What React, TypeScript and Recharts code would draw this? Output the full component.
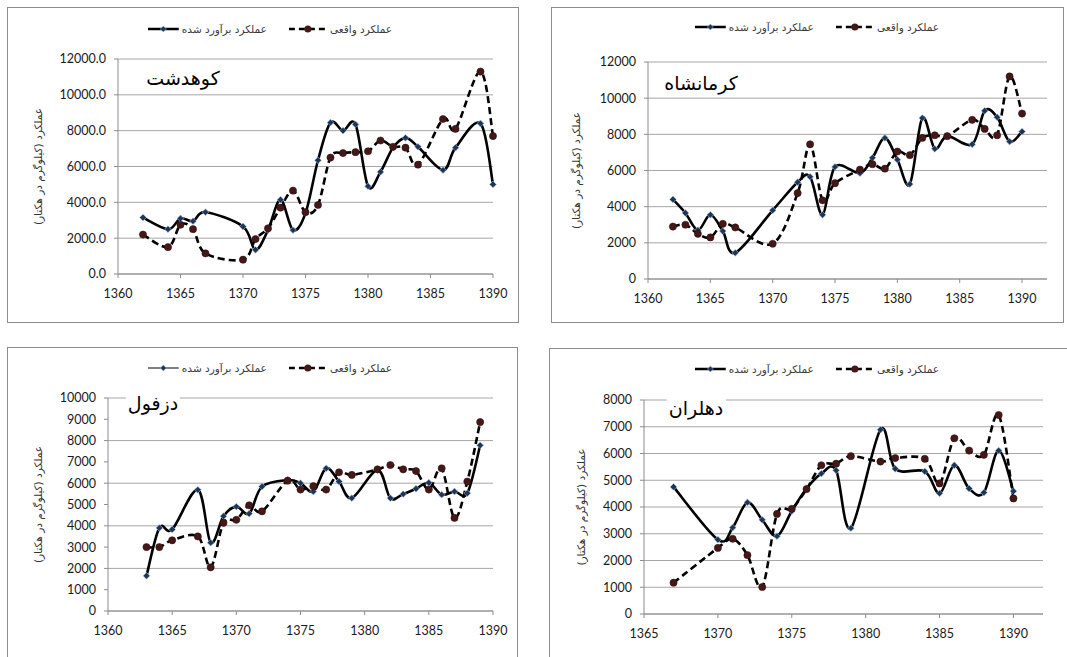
import React from "react";
import { LineChart, Line, XAxis, YAxis, CartesianGrid } from "recharts";

const estLabel = "عملکرد برآورد شده";
const actLabel = "عملکرد واقعی";
const yLabel = "عملکرد (کیلوگرم در هکتار)";

const xTicks60 = [1360, 1365, 1370, 1375, 1380, 1385, 1390];
const xTicks65 = [1365, 1370, 1375, 1380, 1385, 1390];
const yTicks12k = [0, 2000, 4000, 6000, 8000, 10000, 12000];
const yTicks10k = [0, 1000, 2000, 3000, 4000, 5000, 6000, 7000, 8000, 9000, 10000];
const yTicks8k = [0, 1000, 2000, 3000, 4000, 5000, 6000, 7000, 8000];

// کوهدشت
const years1 = [1362, 1364, 1365, 1366, 1367, 1370, 1371, 1372, 1373, 1374, 1375, 1376, 1377, 1378, 1379, 1380, 1381, 1382, 1383, 1384, 1386, 1387, 1389, 1390];
const est1 = [3150, 2500, 3100, 2950, 3450, 2650, 1350, 2450, 4150, 2450, 3400, 6350, 8450, 8000, 8350, 4900, 5700, 7050, 7600, 7100, 5800, 7050, 8400, 5000];
const act1 = [2200, 1500, 2750, 2500, 1150, 800, 1950, 2550, 3700, 4650, 3450, 3850, 6500, 6750, 6800, 6850, 7450, 7100, 7050, 6100, 8650, 8100, 11300, 7700];

// کرمانشاه
const years2 = [1362, 1363, 1364, 1365, 1366, 1367, 1370, 1372, 1373, 1374, 1375, 1377, 1378, 1379, 1380, 1381, 1382, 1383, 1384, 1386, 1387, 1388, 1389, 1390];
const est2 = [4400, 3650, 2700, 3550, 2650, 1450, 3800, 5350, 5650, 3550, 6200, 5850, 6700, 7800, 6600, 5250, 8900, 7200, 7900, 7450, 9300, 8950, 7600, 8150];
const act2 = [2900, 3000, 2500, 2300, 3050, 2850, 1950, 4750, 7450, 4350, 5300, 6050, 6350, 6100, 7050, 6850, 7800, 7950, 7900, 8800, 8300, 7950, 11200, 9150];

// دزفول
const years3 = [1363, 1364, 1365, 1367, 1368, 1369, 1370, 1371, 1372, 1374, 1375, 1376, 1377, 1378, 1379, 1381, 1382, 1383, 1384, 1385, 1386, 1387, 1388, 1389];
const est3 = [1650, 3900, 3830, 5690, 3210, 4450, 4900, 4570, 5840, 6150, 6000, 5610, 6700, 6080, 5300, 6620, 5300, 5490, 5740, 6020, 5460, 5610, 5530, 7780];
const act3 = [3000, 3000, 3320, 3500, 2050, 4140, 4280, 4960, 4680, 6120, 5700, 5860, 5700, 6510, 6390, 6650, 6850, 6650, 6570, 5700, 6700, 4370, 6080, 8870];

// دهلران
const years4 = [1367, 1370, 1371, 1372, 1373, 1374, 1375, 1376, 1377, 1378, 1379, 1381, 1382, 1384, 1385, 1386, 1387, 1388, 1389, 1390];
const est4 = [4750, 2780, 3230, 4170, 3520, 2910, 3850, 4690, 5250, 5370, 3210, 6890, 5430, 5330, 4510, 5560, 4690, 4540, 6110, 4590];
const act4 = [1170, 2470, 2810, 2200, 1010, 3740, 3930, 4670, 5560, 5620, 5900, 5700, 5830, 5800, 4880, 6570, 6110, 5950, 7440, 4320];

const numFont = "Lato, 'Open Sans', sans-serif";
const faFont = "'DejaVu Sans', sans-serif";

// Excel-like smoothed line (catmull-rom style bezier)
const smooth = (context: any) => {
  let pts: number[][] = [];
  return {
    areaStart() {},
    areaEnd() {},
    lineStart() {
      pts = [];
    },
    point(x: number, y: number) {
      pts.push([+x, +y]);
    },
    lineEnd() {
      const n = pts.length;
      if (!n) return;
      context.moveTo(pts[0][0], pts[0][1]);
      for (let i = 0; i < n - 1; i++) {
        const a = pts[Math.max(i - 1, 0)];
        const b = pts[i];
        const c = pts[i + 1];
        const d = pts[Math.min(i + 2, n - 1)];
        context.bezierCurveTo(
          b[0] + (c[0] - a[0]) / 6,
          b[1] + (c[1] - a[1]) / 6,
          c[0] - (d[0] - b[0]) / 6,
          c[1] - (d[1] - b[1]) / 6,
          c[0],
          c[1],
        );
      }
    },
  };
};

const diamondPath = (cx: number, cy: number, s: number) =>
  `M${cx},${cy - s}L${cx + s},${cy}L${cx},${cy + s}L${cx - s},${cy}Z`;

const DiamondDot = (p: any) => {
  if (p.cx == null || p.cy == null) return <g key={`d${p.index}`} />;
  return (
    <path
      key={`d${p.index}`}
      d={diamondPath(p.cx, p.cy, 3.4)}
      fill="#1d3557"
      stroke="#a9c6e4"
      strokeWidth={0.6}
    />
  );
};

const CircleDot = (p: any) => {
  if (p.cx == null || p.cy == null) return <g key={`c${p.index}`} />;
  return (
    <circle
      key={`c${p.index}`}
      cx={p.cx}
      cy={p.cy}
      r={3.6}
      fill="#451818"
      stroke="#2b0b0b"
      strokeWidth={0.5}
    />
  );
};

function LegendRow({ cx, cy, thin }: { cx: number; cy: number; thin?: boolean }) {
  return (
    <div
      style={{
        position: "absolute",
        left: cx,
        top: cy,
        transform: "translate(-50%, -50%)",
        display: "flex",
        alignItems: "center",
        whiteSpace: "nowrap",
        fontFamily: faFont,
        fontSize: 10.5,
        color: "#3a3a3a",
      }}
    >
      <svg width={31} height={10}>
        <line x1={0} y1={5} x2={31} y2={5} stroke="#000" strokeWidth={thin ? 1 : 2.5} />
        <path d={diamondPath(15.5, 5, 3)} fill="#1d3557" stroke="#a9c6e4" strokeWidth={0.5} />
      </svg>
      <span style={{ direction: "rtl", marginLeft: 3 }}>{estLabel}</span>
      <svg width={38} height={10} style={{ marginLeft: 22 }}>
        <line x1={0} y1={5} x2={38} y2={5} stroke="#000" strokeWidth={2.5} strokeDasharray="6 4" />
        <circle cx={19} cy={5} r={3.5} fill="#451818" />
      </svg>
      <span style={{ direction: "rtl", marginLeft: 3 }}>{actLabel}</span>
    </div>
  );
}

interface PanelProps {
  left: number;
  top: number;
  width: number;
  height: number;
  title: string;
  titleX: number;
  titleY: number;
  legendX: number;
  legendY: number;
  thinLegend?: boolean;
  years: number[];
  est: number[];
  act: number[];
  xDomain: [number, number];
  xTicks: number[];
  yTicks: number[];
  decimals: number;
  plotLeft: number;
  plotRight: number;
  plotTop: number;
  plotBottom: number;
  yLabelX: number;
}

function Panel(p: PanelProps) {
  const data = p.years.map((y, i) => ({ year: y, est: p.est[i], act: p.act[i] }));
  const yMax = p.yTicks[p.yTicks.length - 1];
  return (
    <div
      style={{
        position: "absolute",
        left: p.left,
        top: p.top,
        width: p.width,
        height: p.height,
        border: "1px solid #8c8c8c",
        boxSizing: "border-box",
        background: "#fff",
      }}
    >
      <div style={{ position: "absolute", left: -1, top: -1 }}>
        <LineChart
          width={p.width}
          height={p.height}
          data={data}
          margin={{ top: p.plotTop, right: p.plotRight, left: 0, bottom: 0 }}
        >
          <CartesianGrid vertical={false} stroke="#a6a6a6" strokeWidth={1} />
          <XAxis
            dataKey="year"
            type="number"
            domain={p.xDomain}
            ticks={p.xTicks}
            height={p.plotBottom}
            stroke="#8c8c8c"
            tickSize={4}
            tickMargin={11}
            tick={{ fill: "#1a1a1a", fontSize: 12.5, fontFamily: numFont }}
          />
          <YAxis
            type="number"
            domain={[0, yMax]}
            ticks={p.yTicks}
            width={p.plotLeft}
            stroke="#8c8c8c"
            tickSize={4}
            tickMargin={8}
            tickFormatter={(v: number) => v.toFixed(p.decimals)}
            tick={{ fill: "#1a1a1a", fontSize: 12.5, fontFamily: numFont }}
            label={{
              value: yLabel,
              angle: -90,
              position: "insideLeft",
              offset: p.yLabelX,
              style: {
                textAnchor: "middle",
                fontFamily: faFont,
                fontSize: 10.5,
                fill: "#333",
                direction: "rtl",
              },
            }}
          />
          <Line
            dataKey="est"
            name={estLabel}
            type={smooth as any}
            stroke="#000"
            strokeWidth={2.6}
            dot={DiamondDot}
            activeDot={false}
            isAnimationActive={false}
          />
          <Line
            dataKey="act"
            name={actLabel}
            type={smooth as any}
            stroke="#000"
            strokeWidth={2.6}
            strokeDasharray="7 4"
            dot={CircleDot}
            activeDot={false}
            isAnimationActive={false}
          />
        </LineChart>
      </div>
      <LegendRow cx={p.legendX} cy={p.legendY} thin={p.thinLegend} />
      <div
        style={{
          position: "absolute",
          left: p.titleX,
          top: p.titleY,
          transform: "translate(-50%, -50%)",
          fontFamily: faFont,
          fontSize: 19,
          color: "#000",
          direction: "rtl",
          whiteSpace: "nowrap",
          background: "#fff",
          padding: "0 2px",
        }}
      >
        {p.title}
      </div>
    </div>
  );
}

export default function App() {
  return (
    <div
      style={{
        position: "absolute",
        left: 0,
        top: 0,
        width: 1067,
        height: 657,
        overflow: "hidden",
        background: "#fff",
      }}
    >
      <Panel
        left={7}
        top={7}
        width={512}
        height={316}
        title="کوهدشت"
        titleX={175}
        titleY={70}
        legendX={262}
        legendY={21}
        years={years1}
        est={est1}
        act={act1}
        xDomain={[1360, 1390]}
        xTicks={xTicks60}
        yTicks={yTicks12k}
        decimals={1}
        plotLeft={111}
        plotRight={26}
        plotTop={52}
        plotBottom={49}
        yLabelX={31}
      />
      <Panel
        left={551}
        top={7}
        width={513}
        height={316}
        title="کرمانشاه"
        titleX={149}
        titleY={75}
        legendX={265}
        legendY={19}
        years={years2}
        est={est2}
        act={act2}
        xDomain={[1360, 1392]}
        xTicks={xTicks60}
        yTicks={yTicks12k}
        decimals={0}
        plotLeft={97}
        plotRight={17}
        plotTop={55}
        plotBottom={44}
        yLabelX={25}
      />
      <Panel
        left={7}
        top={347}
        width={511}
        height={320}
        title="دزفول"
        titleX={145}
        titleY={55}
        legendX={262}
        legendY={20}
        thinLegend
        years={years3}
        est={est3}
        act={act3}
        xDomain={[1360, 1390]}
        xTicks={xTicks60}
        yTicks={yTicks10k}
        decimals={0}
        plotLeft={101}
        plotRight={25}
        plotTop={51}
        plotBottom={56}
        yLabelX={31}
      />
      <Panel
        left={549}
        top={348}
        width={523}
        height={320}
        title="دهلران"
        titleX={146}
        titleY={59}
        legendX={267}
        legendY={20}
        years={years4}
        est={est4}
        act={act4}
        xDomain={[1365, 1392]}
        xTicks={xTicks65}
        yTicks={yTicks8k}
        decimals={0}
        plotLeft={95}
        plotRight={29}
        plotTop={52}
        plotBottom={54}
        yLabelX={32}
      />
    </div>
  );
}
